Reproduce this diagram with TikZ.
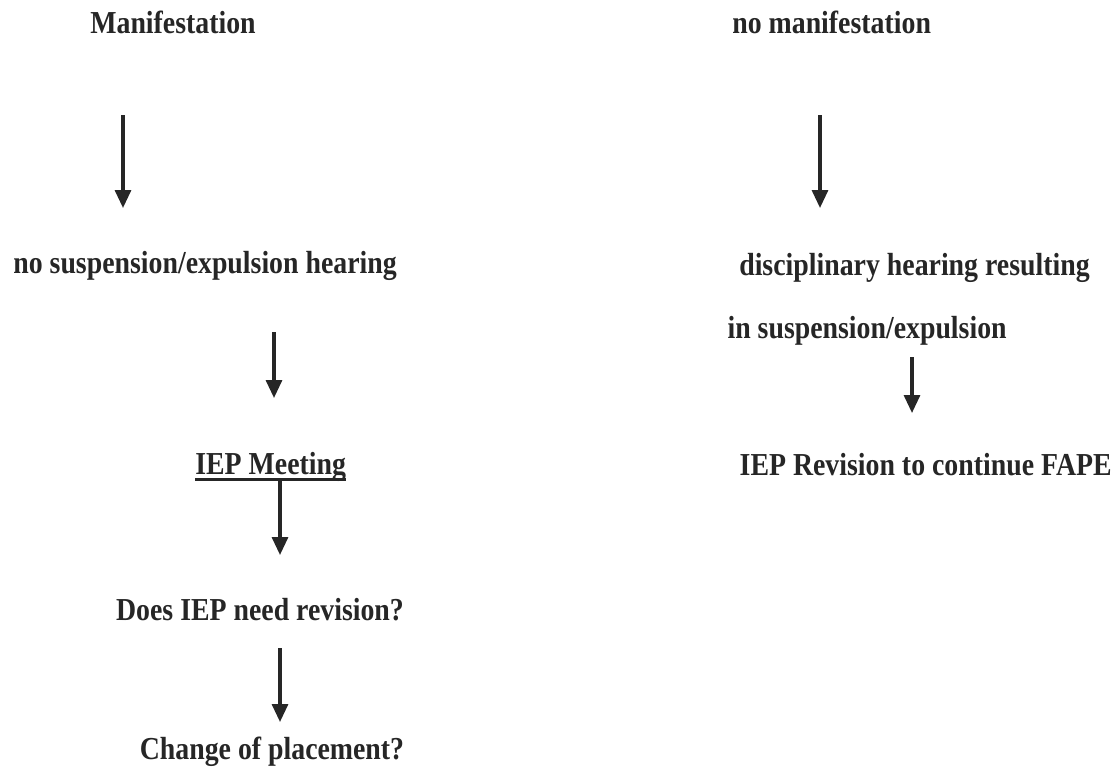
\documentclass[tikz,border=0pt]{standalone}
\usepackage{fontspec}
\setmainfont{Liberation Serif}[FakeStretch=0.87]
\usepackage{xcolor}
\usepackage{tikz}
\usetikzlibrary{arrows.meta,positioning}

\definecolor{ink}{RGB}{38,38,38}
% thick underline as in the scan
\newcommand\thickul[1]{\setbox0\hbox{#1}\rlap{\rule[-3.8pt]{\wd0}{1.3pt}}\box0}

\begin{document}
\begin{tikzpicture}[x=0.02cm, y=-0.02cm, every node/.style={font=\fontsize{18.2}{22}\selectfont\bfseries, text=ink, inner sep=0pt}]
\tikzstyle{txt} = [anchor=base west]
\tikzstyle{txtc} = [anchor=base]
\tikzstyle{txtr} = [anchor=base east]
\tikzstyle{arrow} = [draw=ink, line width=1.8pt, -{Triangle[width=0.32cm, length=0.36cm]}]

\useasboundingbox (0,0) rectangle (1118,768);

% left column
\node (manif) [txt] at (90,33) {Manifestation};
\node (nosusp) [txt] at (13,273) {no suspension/expulsion hearing};
\node (iepmeet) [txt] at (195,474) {\thickul{IEP Meeting}};
\node (needrev) [txtc] at (260,620) {Does IEP need revision?};
\node (placement) [txtc] at (272,759) {Change of placement?};

% right column
\node (nomanif) [txt] at (732,33) {no manifestation};
\node (dischear) [txtr] at (1090,275) {disciplinary hearing resulting};
\node (insusp) [txtr] at (1007,338) {in suspension/expulsion};
\node (ieprev) [txtr] at (1112,475) {IEP Revision to continue FAPE};

% arrow ends
\coordinate (m1) at (123,115);
\coordinate (m2) at (123,208);
\coordinate (s1) at (274,332);
\coordinate (s2) at (274,398);
\coordinate (i1) at (280,479);
\coordinate (i2) at (280,555);
\coordinate (d1) at (280,648);
\coordinate (d2) at (280,722);
\coordinate (n1) at (820,115);
\coordinate (n2) at (820,208);
\coordinate (r1) at (912,357);
\coordinate (r2) at (912,413);

\draw[arrow] (m1) -- (m2);
\draw[arrow] (s1) -- (s2);
\draw[arrow] (i1) -- (i2);
\draw[arrow] (d1) -- (d2);
\draw[arrow] (n1) -- (n2);
\draw[arrow] (r1) -- (r2);
\end{tikzpicture}
\end{document}
